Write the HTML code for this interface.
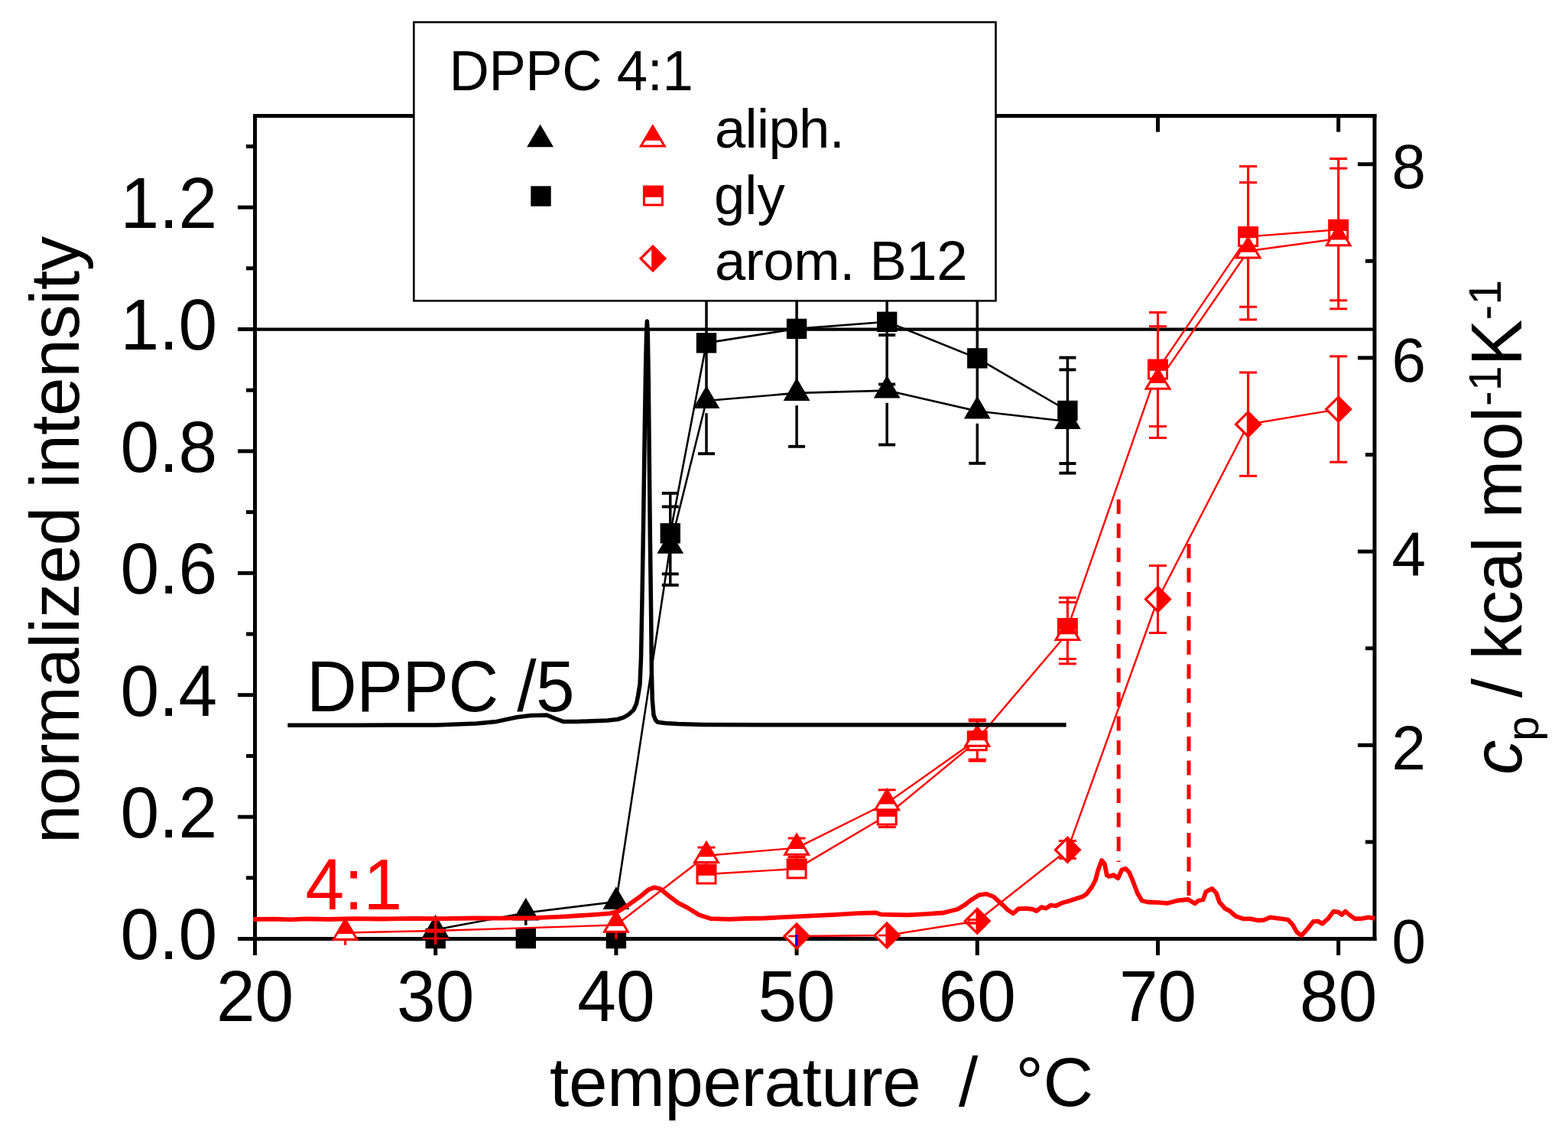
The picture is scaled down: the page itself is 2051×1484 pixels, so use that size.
<!DOCTYPE html>
<html><head><meta charset="utf-8"><title>DPPC 4:1 normalized intensity vs temperature</title>
<style>
html,body{margin:0;padding:0;background:#fff;}
body{width:2051px;height:1484px;overflow:hidden;}
svg{display:block;}
</style></head><body>
<svg width="2051" height="1484" viewBox="0 0 2051 1484">
<rect x="0" y="0" width="2051" height="1484" fill="#fff"/>
<g stroke="#000" stroke-width="5" fill="none" stroke-linecap="square">
<line x1="333.5" y1="151.5" x2="1798" y2="151.5"/>
<line x1="333.5" y1="1227.5" x2="1798" y2="1227.5"/>
<line x1="333.5" y1="151.5" x2="333.5" y2="1227.5"/>
<line x1="1798" y1="151.5" x2="1798" y2="1227.5"/>
</g>
<g stroke="#000" stroke-width="5">
<line x1="311" y1="1227.5" x2="332" y2="1227.5"/>
<line x1="322" y1="1147.8" x2="332" y2="1147.8"/>
<line x1="311" y1="1068.1" x2="332" y2="1068.1"/>
<line x1="322" y1="988.4" x2="332" y2="988.4"/>
<line x1="311" y1="908.7" x2="332" y2="908.7"/>
<line x1="322" y1="829" x2="332" y2="829"/>
<line x1="311" y1="749.3" x2="332" y2="749.3"/>
<line x1="322" y1="669.6" x2="332" y2="669.6"/>
<line x1="311" y1="589.9" x2="332" y2="589.9"/>
<line x1="322" y1="510.2" x2="332" y2="510.2"/>
<line x1="311" y1="430.5" x2="332" y2="430.5"/>
<line x1="322" y1="350.8" x2="332" y2="350.8"/>
<line x1="311" y1="271.1" x2="332" y2="271.1"/>
<line x1="322" y1="191.4" x2="332" y2="191.4"/>
<line x1="333.5" y1="1229" x2="333.5" y2="1249"/>
<line x1="569.7" y1="1229" x2="569.7" y2="1249"/>
<line x1="805.9" y1="1229" x2="805.9" y2="1249"/>
<line x1="1042.1" y1="1229" x2="1042.1" y2="1249"/>
<line x1="1278.3" y1="1229" x2="1278.3" y2="1249"/>
<line x1="1514.5" y1="1229" x2="1514.5" y2="1249"/>
<line x1="1750.7" y1="1229" x2="1750.7" y2="1249"/>
<line x1="569.7" y1="153" x2="569.7" y2="172.5"/>
<line x1="805.9" y1="153" x2="805.9" y2="172.5"/>
<line x1="1042.1" y1="153" x2="1042.1" y2="172.5"/>
<line x1="1278.3" y1="153" x2="1278.3" y2="172.5"/>
<line x1="1514.5" y1="153" x2="1514.5" y2="172.5"/>
<line x1="1750.7" y1="153" x2="1750.7" y2="172.5"/>
<line x1="1786" y1="1100.9" x2="1797" y2="1100.9"/>
<line x1="1776" y1="974.3" x2="1797" y2="974.3"/>
<line x1="1786" y1="847.7" x2="1797" y2="847.7"/>
<line x1="1776" y1="721.1" x2="1797" y2="721.1"/>
<line x1="1786" y1="594.5" x2="1797" y2="594.5"/>
<line x1="1776" y1="467.9" x2="1797" y2="467.9"/>
<line x1="1786" y1="341.3" x2="1797" y2="341.3"/>
<line x1="1776" y1="214.7" x2="1797" y2="214.7"/>
</g>
<line x1="333.5" y1="430.6" x2="1798" y2="430.6" stroke="#000000" stroke-width="4.4"/>
<line x1="876.76" y1="644.9" x2="876.76" y2="765" stroke="#000000" stroke-width="3.5"/>
<line x1="865.76" y1="644.9" x2="887.76" y2="644.9" stroke="#000000" stroke-width="3.9"/>
<line x1="865.76" y1="662.5" x2="887.76" y2="662.5" stroke="#000000" stroke-width="3.9"/>
<line x1="865.76" y1="750.4" x2="887.76" y2="750.4" stroke="#000000" stroke-width="3.9"/>
<line x1="865.76" y1="765" x2="887.76" y2="765" stroke="#000000" stroke-width="3.9"/>
<line x1="924" y1="390" x2="924" y2="524" stroke="#000000" stroke-width="3.5"/>
<line x1="924" y1="540.2" x2="924" y2="593.2" stroke="#000000" stroke-width="3.5"/>
<line x1="913" y1="593.2" x2="935" y2="593.2" stroke="#000000" stroke-width="3.9"/>
<line x1="1042.1" y1="390" x2="1042.1" y2="513.9" stroke="#000000" stroke-width="3.5"/>
<line x1="1042.1" y1="530.1" x2="1042.1" y2="583.8" stroke="#000000" stroke-width="3.5"/>
<line x1="1031.1" y1="583.8" x2="1053.1" y2="583.8" stroke="#000000" stroke-width="3.9"/>
<line x1="1160.2" y1="390" x2="1160.2" y2="510.6" stroke="#000000" stroke-width="3.5"/>
<line x1="1160.2" y1="526.8" x2="1160.2" y2="581.5" stroke="#000000" stroke-width="3.5"/>
<line x1="1149.2" y1="581.5" x2="1171.2" y2="581.5" stroke="#000000" stroke-width="3.9"/>
<line x1="1278.3" y1="390" x2="1278.3" y2="537.5" stroke="#000000" stroke-width="3.5"/>
<line x1="1278.3" y1="553.7" x2="1278.3" y2="605.8" stroke="#000000" stroke-width="3.5"/>
<line x1="1267.3" y1="605.8" x2="1289.3" y2="605.8" stroke="#000000" stroke-width="3.9"/>
<line x1="1149.2" y1="438.1" x2="1171.2" y2="438.1" stroke="#000000" stroke-width="3.9"/>
<line x1="1149.2" y1="502.5" x2="1171.2" y2="502.5" stroke="#000000" stroke-width="3.9"/>
<line x1="1396.4" y1="467.6" x2="1396.4" y2="618.6" stroke="#000000" stroke-width="3.5"/>
<line x1="1385.4" y1="467.6" x2="1407.4" y2="467.6" stroke="#000000" stroke-width="3.9"/>
<line x1="1385.4" y1="483.4" x2="1407.4" y2="483.4" stroke="#000000" stroke-width="3.9"/>
<line x1="1385.4" y1="606" x2="1407.4" y2="606" stroke="#000000" stroke-width="3.9"/>
<line x1="1385.4" y1="618.6" x2="1407.4" y2="618.6" stroke="#000000" stroke-width="3.9"/>
<line x1="687.8" y1="1193.5" x2="687.8" y2="1209.7" stroke="#000000" stroke-width="3.5"/>
<polyline points="876.76,697.3 924,448.4 1042.1,429.9 1160.2,420.8 1278.3,468.4 1396.4,537" fill="none" stroke="#000000" stroke-width="2.6" stroke-linejoin="round" stroke-linecap="round" />
<polyline points="569.7,1215.5 687.8,1193.5 805.9,1179 876.76,713.8 924,524 1042.1,513.9 1160.2,510.6 1278.3,537.5 1396.4,551" fill="none" stroke="#000000" stroke-width="2.6" stroke-linejoin="round" stroke-linecap="round" />
<polygon points="556.5,1213.8 582.9,1213.8 582.9,1240.2 556.5,1240.2" fill="#000"/>
<polygon points="674.6,1213.8 701,1213.8 701,1240.2 674.6,1240.2" fill="#000"/>
<polygon points="792.7,1213.8 819.1,1213.8 819.1,1240.2 792.7,1240.2" fill="#000"/>
<polygon points="863.56,684.1 889.96,684.1 889.96,710.5 863.56,710.5" fill="#000"/>
<polygon points="910.8,435.2 937.2,435.2 937.2,461.6 910.8,461.6" fill="#000"/>
<polygon points="1028.9,416.7 1055.3,416.7 1055.3,443.1 1028.9,443.1" fill="#000"/>
<polygon points="1147,407.6 1173.4,407.6 1173.4,434 1147,434" fill="#000"/>
<polygon points="1265.1,455.2 1291.5,455.2 1291.5,481.6 1265.1,481.6" fill="#000"/>
<polygon points="1383.2,523.8 1409.6,523.8 1409.6,550.2 1383.2,550.2" fill="#000"/>
<polygon points="569.7,1195.7 587.1,1225.5 552.3,1225.5" fill="#000"/>
<polygon points="687.8,1173.7 705.2,1203.5 670.4,1203.5" fill="#000"/>
<polygon points="805.9,1159.2 823.3,1189 788.5,1189" fill="#000"/>
<polygon points="876.76,694 894.16,723.8 859.36,723.8" fill="#000"/>
<polygon points="924,504.2 941.4,534 906.6,534" fill="#000"/>
<polygon points="1042.1,494.1 1059.5,523.9 1024.7,523.9" fill="#000"/>
<polygon points="1160.2,490.8 1177.6,520.6 1142.8,520.6" fill="#000"/>
<polygon points="1278.3,517.7 1295.7,547.5 1260.9,547.5" fill="#000"/>
<polygon points="1396.4,531.2 1413.8,561 1379,561" fill="#000"/>
<polyline points="331,1202 360,1201.6 380,1202.3 400,1201.4 430,1202 460,1201.2 500,1201.5 540,1200.8 580,1201.2 620,1200.5 660,1200.6 700,1200.2 739,1198.3 778,1195.9 797.5,1194.4 809.2,1191.4 817,1186.6 836.5,1172.9 848.2,1163.2 856,1160.2 863.8,1162.2 875.5,1171.9 887.2,1180.7 898.9,1186.6 914.5,1196.3 930.1,1201.2 953.5,1201.8 975,1201 1000,1200.5 1046.8,1198.2 1093.6,1195.8 1121.7,1194.2 1145.1,1193.3 1152.1,1195.6 1187.2,1196.3 1210.6,1195.1 1234,1193.5 1252.7,1188.8 1262.1,1183 1270.5,1176.5 1280.8,1170.1 1290.2,1168.9 1299.6,1172.4 1311.3,1183 1318.4,1189.9 1325.3,1194.4 1332.3,1188.1 1343.4,1188 1351,1188.8 1355.7,1191.2 1362.1,1186.2 1368.3,1187.6 1374.6,1183.5 1380.8,1184.5 1390.2,1180.2 1397.8,1178.3 1405.9,1175.6 1416.6,1172 1421.2,1168.9 1428,1160 1433,1150.5 1436.1,1138.5 1441,1124.9 1444.9,1129.7 1447.8,1144.4 1450.7,1145.9 1456.6,1144 1462.4,1148.3 1467.3,1137.5 1472.2,1135.6 1477,1140.5 1481.9,1152.2 1487.8,1167.8 1493.6,1177.5 1501.4,1179.5 1513.1,1179.9 1526.8,1181 1540.4,1177.5 1554.1,1176 1562.8,1181.4 1567.7,1177.5 1573.6,1176.5 1577.5,1165.8 1585.3,1161.9 1591.1,1167.8 1595,1179.5 1602.8,1188.2 1608.7,1191.2 1616.5,1198 1626.2,1201.3 1636,1201.3 1645.7,1203.5 1653.5,1202.9 1661.3,1199.4 1673,1200.9 1684.7,1202.5 1690.6,1208.7 1696.4,1218.9 1702.3,1223.3 1710.1,1214.6 1717.9,1204.8 1723.7,1204.4 1729.6,1207.7 1737.4,1200.9 1744.2,1191.6 1751,1192.7 1755,1196 1759.8,1191.6 1765.7,1196.6 1772.5,1201.3 1782.3,1200.9 1790,1199.4 1798.5,1200.9" fill="none" stroke="#ff0000" stroke-width="5.8" stroke-linejoin="round" stroke-linecap="butt" />
<line x1="451.6" y1="1219.5" x2="451.6" y2="1235.7" stroke="#ff0000" stroke-width="3.1"/>
<line x1="569.7" y1="1203" x2="569.7" y2="1235" stroke="#ff0000" stroke-width="3.1"/>
<line x1="552.5" y1="1227" x2="586.9" y2="1227" stroke="#ff0000" stroke-width="2.4"/>
<line x1="558.2" y1="1217" x2="581.2" y2="1217" stroke="#ff0000" stroke-width="5.5"/>
<line x1="805.9" y1="1209.5" x2="805.9" y2="1227.8" stroke="#ff0000" stroke-width="3.1"/>
<line x1="924" y1="1108" x2="924" y2="1143" stroke="#ff0000" stroke-width="3.1"/>
<line x1="912.5" y1="1108" x2="935.5" y2="1108" stroke="#ff0000" stroke-width="3"/>
<line x1="1042.1" y1="1096" x2="1042.1" y2="1136" stroke="#ff0000" stroke-width="3.1"/>
<line x1="1030.6" y1="1096" x2="1053.6" y2="1096" stroke="#ff0000" stroke-width="3"/>
<line x1="1030.6" y1="1120.5" x2="1053.6" y2="1120.5" stroke="#ff0000" stroke-width="3"/>
<line x1="1160.2" y1="1032.8" x2="1160.2" y2="1081.4" stroke="#ff0000" stroke-width="3.1"/>
<line x1="1148.7" y1="1032.8" x2="1171.7" y2="1032.8" stroke="#ff0000" stroke-width="3"/>
<line x1="1148.7" y1="1081.4" x2="1171.7" y2="1081.4" stroke="#ff0000" stroke-width="3"/>
<line x1="1278.3" y1="941.8" x2="1278.3" y2="994" stroke="#ff0000" stroke-width="3.1"/>
<line x1="1266.8" y1="941.8" x2="1289.8" y2="941.8" stroke="#ff0000" stroke-width="5"/>
<line x1="1266.8" y1="994" x2="1289.8" y2="994" stroke="#ff0000" stroke-width="5"/>
<line x1="1396.4" y1="781.4" x2="1396.4" y2="867.9" stroke="#ff0000" stroke-width="3.1"/>
<line x1="1384.9" y1="781.4" x2="1407.9" y2="781.4" stroke="#ff0000" stroke-width="3"/>
<line x1="1384.9" y1="787.5" x2="1407.9" y2="787.5" stroke="#ff0000" stroke-width="3"/>
<line x1="1384.9" y1="861.5" x2="1407.9" y2="861.5" stroke="#ff0000" stroke-width="3"/>
<line x1="1384.9" y1="867.9" x2="1407.9" y2="867.9" stroke="#ff0000" stroke-width="3"/>
<line x1="1514.5" y1="408.5" x2="1514.5" y2="572.5" stroke="#ff0000" stroke-width="3.1"/>
<line x1="1503" y1="408.5" x2="1526" y2="408.5" stroke="#ff0000" stroke-width="3"/>
<line x1="1503" y1="426.7" x2="1526" y2="426.7" stroke="#ff0000" stroke-width="3"/>
<line x1="1503" y1="557.5" x2="1526" y2="557.5" stroke="#ff0000" stroke-width="3"/>
<line x1="1503" y1="572.5" x2="1526" y2="572.5" stroke="#ff0000" stroke-width="3"/>
<line x1="1632.6" y1="217.5" x2="1632.6" y2="417.9" stroke="#ff0000" stroke-width="3.1"/>
<line x1="1621.1" y1="217.5" x2="1644.1" y2="217.5" stroke="#ff0000" stroke-width="3"/>
<line x1="1621.1" y1="238.6" x2="1644.1" y2="238.6" stroke="#ff0000" stroke-width="3"/>
<line x1="1621.1" y1="401.2" x2="1644.1" y2="401.2" stroke="#ff0000" stroke-width="3"/>
<line x1="1621.1" y1="417.9" x2="1644.1" y2="417.9" stroke="#ff0000" stroke-width="3"/>
<line x1="1750.7" y1="207.5" x2="1750.7" y2="403.8" stroke="#ff0000" stroke-width="3.1"/>
<line x1="1739.2" y1="207.5" x2="1762.2" y2="207.5" stroke="#ff0000" stroke-width="3"/>
<line x1="1739.2" y1="220.1" x2="1762.2" y2="220.1" stroke="#ff0000" stroke-width="3"/>
<line x1="1739.2" y1="392.8" x2="1762.2" y2="392.8" stroke="#ff0000" stroke-width="3"/>
<line x1="1739.2" y1="403.8" x2="1762.2" y2="403.8" stroke="#ff0000" stroke-width="3"/>
<line x1="1396.4" y1="1099.4" x2="1396.4" y2="1122.4" stroke="#ff0000" stroke-width="3.1"/>
<line x1="1384.9" y1="1099.4" x2="1407.9" y2="1099.4" stroke="#ff0000" stroke-width="3"/>
<line x1="1384.9" y1="1122.4" x2="1407.9" y2="1122.4" stroke="#ff0000" stroke-width="3"/>
<line x1="1514.5" y1="739.6" x2="1514.5" y2="827.5" stroke="#ff0000" stroke-width="3.1"/>
<line x1="1503" y1="739.6" x2="1526" y2="739.6" stroke="#ff0000" stroke-width="3"/>
<line x1="1503" y1="827.5" x2="1526" y2="827.5" stroke="#ff0000" stroke-width="3"/>
<line x1="1632.6" y1="487" x2="1632.6" y2="622.3" stroke="#ff0000" stroke-width="3.1"/>
<line x1="1621.1" y1="487" x2="1644.1" y2="487" stroke="#ff0000" stroke-width="3"/>
<line x1="1621.1" y1="622.3" x2="1644.1" y2="622.3" stroke="#ff0000" stroke-width="3"/>
<line x1="1750.7" y1="465.9" x2="1750.7" y2="604.2" stroke="#ff0000" stroke-width="3.1"/>
<line x1="1739.2" y1="465.9" x2="1762.2" y2="465.9" stroke="#ff0000" stroke-width="3"/>
<line x1="1739.2" y1="604.2" x2="1762.2" y2="604.2" stroke="#ff0000" stroke-width="3"/>
<polyline points="924,1143 1042.1,1135.9 1160.2,1066 1278.3,968.7" fill="none" stroke="#ff0000" stroke-width="2.4" stroke-linejoin="round" stroke-linecap="round" />
<polyline points="1396.4,821.5 1514.5,483 1632.6,309.4 1750.7,300.2" fill="none" stroke="#ff0000" stroke-width="2.4" stroke-linejoin="round" stroke-linecap="round" />
<polyline points="451.6,1219.5 569.7,1217 805.9,1209.5 924,1118.7 1042.1,1108.6 1160.2,1050 1278.3,966.6 1396.4,827.7" fill="none" stroke="#ff0000" stroke-width="2.4" stroke-linejoin="round" stroke-linecap="round" />
<polyline points="1514.5,499.6 1632.6,328.3 1750.7,312" fill="none" stroke="#ff0000" stroke-width="2.4" stroke-linejoin="round" stroke-linecap="round" />
<polyline points="1042.1,1224 1160.2,1223 1278.3,1204.3 1396.4,1111.3 1514.5,783.5 1632.6,554.7 1750.7,535.1" fill="none" stroke="#ff0000" stroke-width="2.4" stroke-linejoin="round" stroke-linecap="round" />
<polygon points="910.5,1129.5 937.5,1129.5 937.5,1156.5 910.5,1156.5" fill="#ff0000"/>
<polygon points="913.5,1144.8 934.5,1144.8 934.5,1153.5 913.5,1153.5" fill="#fff"/>
<polygon points="1028.6,1122.4 1055.6,1122.4 1055.6,1149.4 1028.6,1149.4" fill="#ff0000"/>
<polygon points="1031.6,1137.7 1052.6,1137.7 1052.6,1146.4 1031.6,1146.4" fill="#fff"/>
<polygon points="1146.7,1052.5 1173.7,1052.5 1173.7,1079.5 1146.7,1079.5" fill="#ff0000"/>
<polygon points="1149.7,1067.8 1170.7,1067.8 1170.7,1076.5 1149.7,1076.5" fill="#fff"/>
<polygon points="1264.8,955.2 1291.8,955.2 1291.8,982.2 1264.8,982.2" fill="#ff0000"/>
<polygon points="1267.8,970.5 1288.8,970.5 1288.8,979.2 1267.8,979.2" fill="#fff"/>
<polygon points="1382.9,808 1409.9,808 1409.9,835 1382.9,835" fill="#ff0000"/>
<polygon points="1385.9,823.3 1406.9,823.3 1406.9,832 1385.9,832" fill="#fff"/>
<polygon points="1501,469.5 1528,469.5 1528,496.5 1501,496.5" fill="#ff0000"/>
<polygon points="1504,484.8 1525,484.8 1525,493.5 1504,493.5" fill="#fff"/>
<polygon points="1619.1,295.9 1646.1,295.9 1646.1,322.9 1619.1,322.9" fill="#ff0000"/>
<polygon points="1622.1,311.2 1643.1,311.2 1643.1,319.9 1622.1,319.9" fill="#fff"/>
<polygon points="1737.2,286.7 1764.2,286.7 1764.2,313.7 1737.2,313.7" fill="#ff0000"/>
<polygon points="1740.2,302 1761.2,302 1761.2,310.7 1740.2,310.7" fill="#fff"/>
<polygon points="451.6,1199.2 469.6,1229.7 433.6,1229.7" fill="#ff0000"/>
<polygon points="442.22,1221 460.98,1221 464.35,1226.7 438.85,1226.7" fill="#fff"/>
<polygon points="805.9,1189.2 823.9,1219.7 787.9,1219.7" fill="#ff0000"/>
<polygon points="796.52,1211 815.28,1211 818.65,1216.7 793.15,1216.7" fill="#fff"/>
<polygon points="924,1098.4 942,1128.9 906,1128.9" fill="#ff0000"/>
<polygon points="914.62,1120.2 933.38,1120.2 936.75,1125.9 911.25,1125.9" fill="#fff"/>
<polygon points="1042.1,1088.3 1060.1,1118.8 1024.1,1118.8" fill="#ff0000"/>
<polygon points="1032.72,1110.1 1051.48,1110.1 1054.85,1115.8 1029.35,1115.8" fill="#fff"/>
<polygon points="1160.2,1029.7 1178.2,1060.2 1142.2,1060.2" fill="#ff0000"/>
<polygon points="1150.82,1051.5 1169.58,1051.5 1172.95,1057.2 1147.45,1057.2" fill="#fff"/>
<polygon points="1278.3,946.3 1296.3,976.8 1260.3,976.8" fill="#ff0000"/>
<polygon points="1268.92,968.1 1287.68,968.1 1291.05,973.8 1265.55,973.8" fill="#fff"/>
<polygon points="1396.4,807.4 1414.4,837.9 1378.4,837.9" fill="#ff0000"/>
<polygon points="1387.02,829.2 1405.78,829.2 1409.15,834.9 1383.65,834.9" fill="#fff"/>
<polygon points="1514.5,479.3 1532.5,509.8 1496.5,509.8" fill="#ff0000"/>
<polygon points="1505.12,501.1 1523.88,501.1 1527.25,506.8 1501.75,506.8" fill="#fff"/>
<polygon points="1632.6,308 1650.6,338.5 1614.6,338.5" fill="#ff0000"/>
<polygon points="1623.22,329.8 1641.98,329.8 1645.35,335.5 1619.85,335.5" fill="#fff"/>
<polygon points="1750.7,291.7 1768.7,322.2 1732.7,322.2" fill="#ff0000"/>
<polygon points="1741.32,313.5 1760.08,313.5 1763.45,319.2 1737.95,319.2" fill="#fff"/>
<polygon points="1042.1,1205.8 1060.3,1224 1042.1,1242.2 1023.9,1224" fill="#ff0000"/>
<polygon points="1040.3,1212.13 1040.3,1235.87 1028.43,1224" fill="#fff"/>
<polygon points="1160.2,1204.8 1178.4,1223 1160.2,1241.2 1142,1223" fill="#ff0000"/>
<polygon points="1158.4,1211.13 1158.4,1234.87 1146.53,1223" fill="#fff"/>
<polygon points="1278.3,1186.1 1296.5,1204.3 1278.3,1222.5 1260.1,1204.3" fill="#ff0000"/>
<polygon points="1276.5,1192.43 1276.5,1216.17 1264.63,1204.3" fill="#fff"/>
<polygon points="1396.4,1093.1 1414.6,1111.3 1396.4,1129.5 1378.2,1111.3" fill="#ff0000"/>
<polygon points="1394.6,1099.43 1394.6,1123.17 1382.73,1111.3" fill="#fff"/>
<polygon points="1514.5,765.3 1532.7,783.5 1514.5,801.7 1496.3,783.5" fill="#ff0000"/>
<polygon points="1512.7,771.63 1512.7,795.37 1500.83,783.5" fill="#fff"/>
<polygon points="1632.6,536.5 1650.8,554.7 1632.6,572.9 1614.4,554.7" fill="#ff0000"/>
<polygon points="1630.8,542.83 1630.8,566.57 1618.93,554.7" fill="#fff"/>
<polygon points="1750.7,516.9 1768.9,535.1 1750.7,553.3 1732.5,535.1" fill="#ff0000"/>
<polygon points="1748.9,523.23 1748.9,546.97 1737.03,535.1" fill="#fff"/>
<rect x="1031.1" y="1222.7" width="11" height="2.6" fill="#ff0000"/>
<rect x="1149.2" y="1221.7" width="11" height="2.6" fill="#ff0000"/>
<rect x="1266.8" y="1201" width="11.5" height="3" fill="#ff0000"/>
<rect x="1263.3" y="1205.1" width="15" height="3.6" fill="#ff0000"/>
<rect x="1265.8" y="1201.9" width="2" height="5.2" fill="#ff0000"/>
<rect x="1040.1" y="1222" width="3.6" height="14.8" fill="#0000ff"/>
<polyline points="376.3,948.2 465.3,948.2 570.6,948 623.3,946.1 649.6,943.4 676,937.7 694.4,935.5 715.4,935 726,939.5 736.5,943.4 755,943.4 794.4,942.1 808,940.5 815.5,938.2 822.6,934 828.7,928.3 832.5,920 834.5,910 837,895 838.5,860 840,780 841.5,690 843.3,560 844.6,480 845.6,435 846.4,420 847.3,435 848.3,500 849.3,600 850.3,700 851.6,800 852.4,880 853.3,915 855,935 857.5,941.5 860.3,944.3 870,945.5 886.6,946.6 920,947.4 1000,947.8 1394.6,947.8" fill="none" stroke="#000000" stroke-width="5.5" stroke-linejoin="round" stroke-linecap="butt" />
<line x1="1463.2" y1="653" x2="1463.2" y2="1127" stroke="#ff0000" stroke-width="5" stroke-dasharray="19 12.5"/>
<line x1="1555" y1="711" x2="1555" y2="1171.5" stroke="#ff0000" stroke-width="5" stroke-dasharray="19 12.5"/>
<rect x="541.3" y="29" width="761.2" height="364.3" fill="#fff" stroke="#000" stroke-width="2.6"/>
<polygon points="706.6,162.4 724,192.2 689.2,192.2" fill="#000"/>
<polygon points="853.8,161.9 871.8,192.4 835.8,192.4" fill="#ff0000"/>
<polygon points="844.42,183.7 863.18,183.7 866.55,189.4 841.05,189.4" fill="#fff"/>
<polygon points="694.3,243.3 720.7,243.3 720.7,269.7 694.3,269.7" fill="#000"/>
<polygon points="840.9,242.5 867.9,242.5 867.9,269.5 840.9,269.5" fill="#ff0000"/>
<polygon points="843.9,257.8 864.9,257.8 864.9,266.5 843.9,266.5" fill="#fff"/>
<polygon points="854,319.8 872.2,338 854,356.2 835.8,338" fill="#ff0000"/>
<polygon points="852.2,326.13 852.2,349.87 840.33,338" fill="#fff"/>
<g font-family="'Liberation Sans', Arial, sans-serif" fill="#000">
<text transform="translate(587.6,118) scale(1,1.03)" font-size="72.5" textLength="319.1" lengthAdjust="spacing">DPPC 4:1</text>
<text transform="translate(935,192.7)" font-size="72.5" textLength="169.8" lengthAdjust="spacing">aliph.</text>
<text transform="translate(934,279.9)" font-size="72.5">gly</text>
<text transform="translate(935,365.9)" font-size="72.5" textLength="330.5" lengthAdjust="spacing">arom. B12</text>
<text transform="translate(284,1254.3) scale(1,1.03)" font-size="91" text-anchor="end">0.0</text>
<text transform="translate(284,1094.9) scale(1,1.03)" font-size="91" text-anchor="end">0.2</text>
<text transform="translate(284,935.5) scale(1,1.03)" font-size="91" text-anchor="end">0.4</text>
<text transform="translate(284,776.1) scale(1,1.03)" font-size="91" text-anchor="end">0.6</text>
<text transform="translate(284,616.7) scale(1,1.03)" font-size="91" text-anchor="end">0.8</text>
<text transform="translate(284,457.3) scale(1,1.03)" font-size="91" text-anchor="end">1.0</text>
<text transform="translate(284,297.9) scale(1,1.03)" font-size="91" text-anchor="end">1.2</text>
<text transform="translate(333.5,1334.8) scale(1,1.03)" font-size="91" text-anchor="middle">20</text>
<text transform="translate(569.7,1334.8) scale(1,1.03)" font-size="91" text-anchor="middle">30</text>
<text transform="translate(805.9,1334.8) scale(1,1.03)" font-size="91" text-anchor="middle">40</text>
<text transform="translate(1042.1,1334.8) scale(1,1.03)" font-size="91" text-anchor="middle">50</text>
<text transform="translate(1278.3,1334.8) scale(1,1.03)" font-size="91" text-anchor="middle">60</text>
<text transform="translate(1514.5,1334.8) scale(1,1.03)" font-size="91" text-anchor="middle">70</text>
<text transform="translate(1750.7,1334.8) scale(1,1.03)" font-size="91" text-anchor="middle">80</text>
<text transform="translate(719.1,1445.9)" font-size="91" textLength="711" lengthAdjust="spacing" xml:space="preserve">temperature  /  °C</text>
<text transform="translate(103.2,1103) rotate(-90)" font-size="91" textLength="794.2" lengthAdjust="spacing">normalized intensity</text>
<text transform="translate(401,930) scale(1,1.03)" font-size="91" textLength="350.6" lengthAdjust="spacing">DPPC /5</text>
<text transform="translate(399.5,1188.9) scale(1,1.03)" font-size="91" fill="#ff0000">4:1</text>
<text transform="translate(1990,1013) rotate(-90)" font-size="91" font-style="italic">c</text>
<text transform="translate(2011.5,969) rotate(-90)" font-size="59">p</text>
<text transform="translate(1990,912.3) rotate(-90)" font-size="91" textLength="380.5" lengthAdjust="spacing">/ kcal mol</text>
<text transform="translate(1963,531) rotate(-90)" font-size="59">-1</text>
<text transform="translate(1990,478.5) rotate(-90) scale(1,1.04)" font-size="91">K</text>
<text transform="translate(1963,418.5) rotate(-90)" font-size="59">-1</text>
<text transform="translate(1820.5,1259) scale(1,1.02)" font-size="80">0</text>
<text transform="translate(1820.5,1005.8) scale(1,1.02)" font-size="80">2</text>
<text transform="translate(1820.5,752.6) scale(1,1.02)" font-size="80">4</text>
<text transform="translate(1820.5,499.4) scale(1,1.02)" font-size="80">6</text>
<text transform="translate(1820.5,246.2) scale(1,1.02)" font-size="80">8</text>
</g>
</svg>
</body></html>
